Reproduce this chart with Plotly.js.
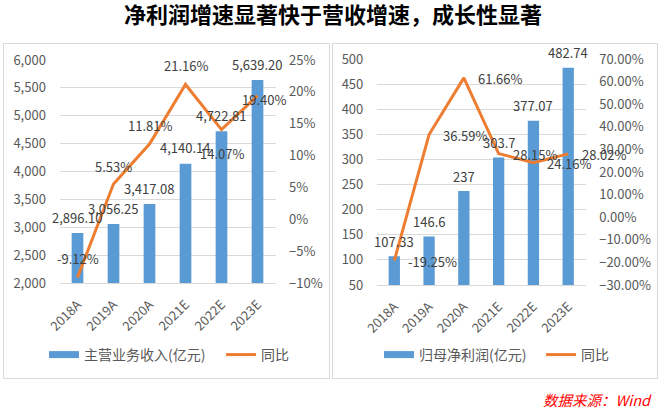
<!DOCTYPE html>
<html>
<head>
<meta charset="utf-8">
<script src="https://cdn.plot.ly/plotly-3.0.1.min.js"></script>
<style>html,body{margin:0;padding:0;background:#fff;}#chart{width:661px;height:410px;}</style>
</head>
<body>
<div id="chart"></div>
<script>
// ---- data ----
const years = ['2018A', '2019A', '2020A', '2021E', '2022E', '2023E'];
const revenue = [2896.10, 3056.25, 3417.08, 4140.14, 4722.81, 5639.20];
const revenueLabels = ['2,896.10', '3,056.25', '3,417.08', '4,140.14', '4,722.81', '5,639.20'];
const revenueGrowth = [-9.12, 5.53, 11.81, 21.16, 14.07, 19.40];
const revenueGrowthLabels = ['-9.12%', '5.53%', '11.81%', '21.16%', '14.07%', '19.40%'];
const profit = [107.33, 146.6, 237, 303.7, 377.07, 482.74];
const profitLabels = ['107.33', '146.6', '237', '303.7', '377.07', '482.74'];
const profitGrowth = [-19.25, 36.59, 61.66, 28.15, 24.16, 28.02];
const profitGrowthLabels = ['-19.25%', '36.59%', '61.66%', '28.15%', '24.16%', '28.02%'];

const titleText = '净利润增速显著快于营收增速，成长性显著';
const revenueName = '主营业务收入(亿元)';
const profitName = '归母净利润(亿元)';
const growthName = '同比';
const sourceText = '数据来源：Wind';

// ---- styles ----
const W = 661, H = 410;
const FONT = '"Noto Sans CJK SC", "Microsoft YaHei", sans-serif';
const BLUE = '#5B9BD5', ORANGE = '#ED7D31', GRID = '#D9D9D9';
const TICK = '#595959', LABEL = '#404040';
// per-point label offsets (px) for the growth lines
const leftGrowthShift = [[0, 19], [0, 18], [0, 19], [0, 19], [0, -24], [6, -4]];
const px = v => v / W, py = v => 1 - v / H;

const traces = [
  {type: 'bar', x: years, y: revenue, xaxis: 'x', yaxis: 'y', marker: {color: BLUE},
   showlegend: false},
  {type: 'scatter', mode: 'lines', x: [null], y: [null], xaxis: 'x', yaxis: 'y',
   name: revenueName, line: {color: BLUE, width: 7}, legend: 'legend'},
  {type: 'scatter', mode: 'lines', x: years, y: revenueGrowth, xaxis: 'x', yaxis: 'y2',
   name: growthName, line: {color: ORANGE, width: 3}, legend: 'legend2'},
  {type: 'bar', x: years, y: profit, xaxis: 'x2', yaxis: 'y3', marker: {color: BLUE},
   showlegend: false},
  {type: 'scatter', mode: 'lines', x: [null], y: [null], xaxis: 'x2', yaxis: 'y3',
   name: profitName, line: {color: BLUE, width: 7}, legend: 'legend3'},
  {type: 'scatter', mode: 'lines', x: years, y: profitGrowth, xaxis: 'x2', yaxis: 'y4',
   name: growthName, line: {color: ORANGE, width: 3}, legend: 'legend4'}
];

const annotations = [];
years.forEach((yr, i) => {
  annotations.push({x: yr, y: revenue[i], xref: 'x', yref: 'y', text: revenueLabels[i],
    showarrow: false, yshift: 16, xanchor: 'center', yanchor: 'middle',
    font: {family: FONT, size: 13, color: LABEL}});
  annotations.push({x: yr, y: revenueGrowth[i], xref: 'x', yref: 'y2', text: revenueGrowthLabels[i],
    showarrow: false, xshift: leftGrowthShift[i][0], yshift: leftGrowthShift[i][1],
    xanchor: 'center', yanchor: 'middle', font: {family: FONT, size: 13, color: LABEL}});
  annotations.push({x: yr, y: profit[i], xref: 'x2', yref: 'y3', text: profitLabels[i],
    showarrow: false, yshift: 15, xanchor: 'center', yanchor: 'middle',
    font: {family: FONT, size: 13, color: LABEL}});
  annotations.push({x: yr, y: profitGrowth[i], xref: 'x2', yref: 'y4', text: profitGrowthLabels[i],
    showarrow: false, xshift: 12, yshift: -1, xanchor: 'left', yanchor: 'middle',
    font: {family: FONT, size: 13, color: LABEL}});
});
annotations.push({x: px(654), y: py(399), xref: 'paper', yref: 'paper', text: sourceText,
  showarrow: false, xanchor: 'right', yanchor: 'middle',
  font: {family: FONT, size: 14.5, color: '#FF0000', style: 'italic'}});

const tickFont = {family: FONT, size: 13, color: TICK};
const catAxis = (dom, anchor) => ({domain: dom, anchor: anchor, type: 'category',
  range: [-0.5, years.length - 0.5], autorange: false, tickangle: -45,
  ticks: 'outside', ticklen: 8, tickcolor: 'rgba(0,0,0,0)', tickfont: tickFont,
  showgrid: false, showline: true, linecolor: GRID, linewidth: 1, zeroline: false, fixedrange: true});
const valAxis = (dom, anchor, range, dtick, fmt) => ({domain: dom, anchor: anchor, range: range,
  dtick: dtick, tickformat: fmt, ticks: 'outside', ticklen: 10, tickcolor: 'rgba(0,0,0,0)',
  tickfont: tickFont, showgrid: true, gridcolor: GRID, gridwidth: 1, zeroline: false,
  showline: false, fixedrange: true});
const pctAxis = (over, anchor, range, dtick, fmt) => ({overlaying: over, anchor: anchor, side: 'right',
  range: range, dtick: dtick, tickformat: fmt, ticksuffix: '%', ticks: 'outside', ticklen: 10,
  tickcolor: 'rgba(0,0,0,0)', tickfont: tickFont, showgrid: false, zeroline: false,
  showline: false, fixedrange: true});

const legendStyle = (x) => ({orientation: 'h', x: x, xanchor: 'left', y: py(355), yanchor: 'middle',
  font: {family: FONT, size: 14, color: TICK}, bgcolor: 'rgba(0,0,0,0)', borderwidth: 0,
  itemclick: false, itemdoubleclick: false});

const layout = {
  width: W, height: H, margin: {l: 0, r: 0, t: 0, b: 0, pad: 0},
  paper_bgcolor: '#FFFFFF', plot_bgcolor: 'rgba(0,0,0,0)',
  font: {family: FONT, color: TICK},
  title: {text: titleText, x: px(333), xanchor: 'center', xref: 'container',
    y: py(15), yanchor: 'middle', yref: 'container',
    font: {family: FONT, size: 22, color: '#000000', weight: 'bold'}},
  bargap: 0.675,
  xaxis: catAxis([px(59.5), px(275.5)], 'y'),
  yaxis: valAxis([py(283), py(60)], 'x', [2000, 6000], 500, ','),
  yaxis2: pctAxis('y', 'x', [-10, 25], 5, 'd'),
  xaxis2: catAxis([px(376.9), px(585.6)], 'y3'),
  yaxis3: valAxis([py(285), py(59)], 'x2', [50, 500], 50, 'd'),
  yaxis4: pctAxis('y3', 'x2', [-30, 70], 10, '.2f'),
  legend: legendStyle(px(44)),
  legend2: legendStyle(px(221)),
  legend3: legendStyle(px(379)),
  legend4: legendStyle(px(541)),
  annotations: annotations,
  shapes: [
    {type: 'rect', xref: 'paper', yref: 'paper', x0: px(3.5), x1: px(329.5), y0: py(378.5), y1: py(43.5),
     line: {color: GRID, width: 1}, fillcolor: 'rgba(0,0,0,0)', layer: 'below'},
    {type: 'rect', xref: 'paper', yref: 'paper', x0: px(332.5), x1: px(657.5), y0: py(378.5), y1: py(43.5),
     line: {color: GRID, width: 1}, fillcolor: 'rgba(0,0,0,0)', layer: 'below'}
  ],
  hovermode: false
};

Plotly.newPlot('chart', traces, layout, {displayModeBar: false, staticPlot: true});
</script>
</body>
</html>
